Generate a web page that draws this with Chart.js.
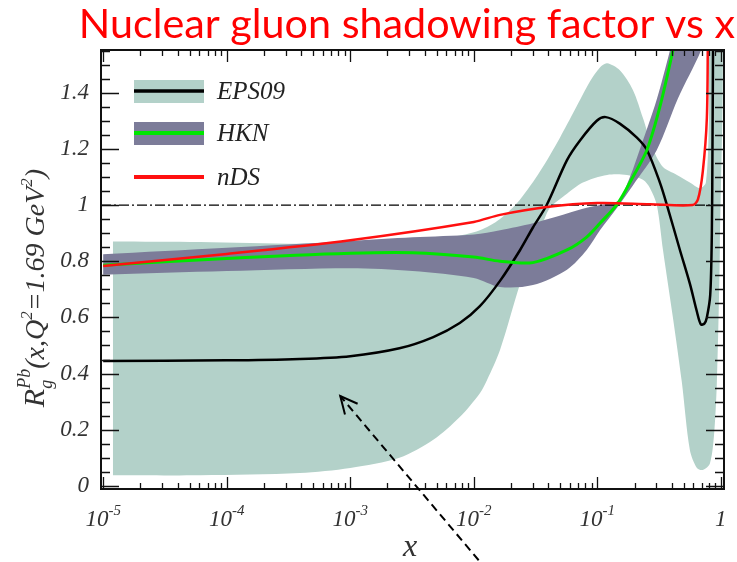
<!DOCTYPE html>
<html lang="en">
<head>
<meta charset="UTF-8">
<title>Nuclear gluon shadowing factor vs x</title>
<script src="https://cdn.jsdelivr.net/npm/chart.js"></script>
<style>
    html, body { margin: 0; padding: 0; background: #fff; }
</style>
</head>
<body>
<canvas id="shadowChart" width="737" height="562"></canvas>
<script>
// axes
const X_MIN = 9.6e-6, X_MAX = 1.06;
const Y_MIN = -0.011, Y_MAX = 1.552;
const X_TICKS = [1e-5, 1e-4, 1e-3, 1e-2, 1e-1, 1];
const X_TICK_EXP = ['-5', '-4', '-3', '-2', '-1', ''];
const Y_TICKS = [0, 0.2, 0.4, 0.6, 0.8, 1, 1.2, 1.4];
const Y_TICK_LABELS = ['0', '0.2', '0.4', '0.6', '0.8', '1', '1.2', '1.4'];
const TITLE = 'Nuclear gluon shadowing factor vs x';

// EPS09 central value
const eps09X = [1e-5, 1e-4, 3.9e-4, 1e-3, 2.5e-3, 4.7e-3, 7.7e-3, 0.0112, 0.0163, 0.0237, 0.0301, 0.0389,
    0.0568, 0.0724, 0.099, 0.117, 0.152, 0.209, 0.252, 0.321, 0.366, 0.466, 0.561, 0.64, 0.689, 0.735,
    0.77, 0.82, 0.845, 0.855, 0.865];
const eps09Y = [0.445, 0.447, 0.452, 0.462, 0.49, 0.53, 0.58, 0.64, 0.73, 0.84, 0.92, 1.0,
    1.16, 1.23, 1.30, 1.313, 1.29, 1.24, 1.196, 1.08, 1.0, 0.84, 0.72, 0.62, 0.575, 0.578,
    0.60, 0.68, 0.9, 1.2, 1.6];

// EPS09 uncertainty band
const eps09UpX = [1.2e-5, 6.1e-5, 3.9e-4, 2.5e-3, 6.4e-3, 0.0112, 0.0163, 0.0237, 0.0344, 0.0498, 0.0659,
    0.0871, 0.105, 0.12, 0.152, 0.194, 0.234, 0.282, 0.34, 0.441, 0.561, 0.676, 0.756, 0.80, 0.83];
const eps09Up = [0.870, 0.868, 0.862, 0.868, 0.885, 0.91, 0.95, 1.02, 1.12, 1.24, 1.34,
    1.44, 1.49, 1.505, 1.48, 1.41, 1.31, 1.20, 1.135, 1.107, 1.08, 1.06, 1.08, 1.3, 1.7];
const eps09LoX = [1.2e-5, 6.1e-5, 3.9e-4, 1e-3, 2.5e-3, 4.7e-3, 7.7e-3, 0.0112, 0.0128, 0.0163, 0.0237,
    0.0301, 0.0363, 0.0414, 0.0568, 0.0764, 0.12, 0.174, 0.234, 0.267, 0.303, 0.34, 0.409, 0.483,
    0.561, 0.64, 0.715, 0.815, 0.88, 0.928, 0.981, 1.019];
const eps09Lo = [0.038, 0.038, 0.046, 0.064, 0.10, 0.164, 0.245, 0.33, 0.377, 0.484, 0.72,
    0.84, 0.935, 0.99, 1.04, 1.08, 1.107, 1.107, 1.09, 1.06, 1.0, 0.84, 0.6, 0.37,
    0.128, 0.064, 0.057, 0.08, 0.18, 0.37, 0.84, 1.7];

// HKN central value and band
const hknX = [1e-5, 1e-4, 1e-3, 3.2e-3, 0.01, 0.0163, 0.0301, 0.0568, 0.082, 0.105, 0.147, 0.194,
    0.252, 0.321, 0.409, 0.43];
const hknY = [0.786, 0.81, 0.828, 0.83, 0.815, 0.80, 0.795, 0.84, 0.886, 0.935, 1.007, 1.10,
    1.196, 1.35, 1.55, 1.6];
const hknUpX = [1e-5, 1e-4, 1e-3, 3.2e-3, 0.01, 0.0163, 0.0301, 0.0568, 0.082, 0.105, 0.147, 0.18,
    0.22, 0.3, 0.387, 0.41];
const hknUp = [0.825, 0.848, 0.872, 0.885, 0.895, 0.91, 0.935, 0.97, 0.99, 1.0, 1.015, 1.09,
    1.196, 1.37, 1.55, 1.6];
const hknLoX = [1e-5, 1e-4, 1e-3, 3.2e-3, 0.01, 0.0163, 0.0301, 0.0568, 0.082, 0.105, 0.147, 0.194,
    0.303, 0.45, 0.69, 0.72];
const hknLo = [0.752, 0.765, 0.775, 0.765, 0.74, 0.708, 0.715, 0.77, 0.84, 0.91, 0.995, 1.07,
    1.196, 1.38, 1.55, 1.6];

// nDS
const ndsX = [1e-5, 1e-4, 1e-3, 0.01, 0.0163, 0.0389, 0.1, 0.267, 0.59, 0.652, 0.714, 0.77, 0.785];
const ndsY = [0.783, 0.826, 0.875, 0.94, 0.965, 0.993, 1.007, 1.003, 1.0, 1.02, 1.12, 1.31, 1.6];

// the arrow drawn on the slide (tail, head) in data units
const ARROW_X = [0.0128, 8.3e-4];
const ARROW_Y = [-0.3, 0.32];

const TEAL = '#b3d1c9';
const SLATE = '#7c7c99';

const pts = (xs, ys) => xs.map((x, i) => ({ x: x, y: ys[i] }));
const ring = (xu, yu, xl, yl) => pts(xu, yu).concat(pts(xl, yl).reverse());

const SERIF = '"Liberation Serif", "DejaVu Serif", serif';

const decorPlugin = {
    id: 'decor',
    afterDraw(chart) {
        const { ctx, chartArea: a, scales: { x, y } } = chart;
        ctx.save();

        // inward ticks on all four sides
        ctx.strokeStyle = '#111';
        ctx.lineWidth = 1.3;
        ctx.beginPath();
        const xt = [];
        for (let d = -5; d < 0; d++) for (let k = 1; k < 10; k++) xt.push([k * Math.pow(10, d), k === 1]);
        xt.push([1, true]);
        xt.forEach(([v, major]) => {
            const px = Math.round(x.getPixelForValue(v)) + 0.5;
            const len = major ? 12 : 6;
            ctx.moveTo(px, a.bottom); ctx.lineTo(px, a.bottom - len);
            ctx.moveTo(px, a.top); ctx.lineTo(px, a.top + len);
        });
        for (let i = 0; i <= 31; i++) {
            const py = Math.round(y.getPixelForValue(i * 0.05)) + 0.5;
            const len = i % 4 === 0 ? 18 : 9;
            ctx.moveTo(a.left, py); ctx.lineTo(a.left + len, py);
            ctx.moveTo(a.right, py); ctx.lineTo(a.right - len, py);
        }
        ctx.stroke();
        ctx.lineWidth = 2;
        ctx.strokeRect(a.left, a.top, a.width, a.height);

        // x tick labels 10^n
        ctx.fillStyle = '#333';
        ctx.textBaseline = 'alphabetic';
        ctx.textAlign = 'left';
        X_TICKS.forEach((v, i) => {
            const px = x.getPixelForValue(v);
            const base = i === X_TICKS.length - 1 ? '1' : '10';
            ctx.font = 'italic 23px ' + SERIF;
            const wb = ctx.measureText(base).width;
            ctx.font = 'italic 15px ' + SERIF;
            const we = ctx.measureText(X_TICK_EXP[i]).width;
            const x0 = px - (wb + we) / 2;
            ctx.font = 'italic 23px ' + SERIF;
            ctx.fillText(base, x0, 526);
            ctx.font = 'italic 15px ' + SERIF;
            ctx.fillText(X_TICK_EXP[i], x0 + wb, 515);
        });

        // x axis title
        ctx.font = 'italic 32px ' + SERIF;
        ctx.textAlign = 'center';
        ctx.fillText('x', x.getPixelForValue(3.05e-3), 556);

        // y axis title with sub/superscripts
        const parts = [
            ['R', 30, 0, true], ['g', 18, 8, false], ['Pb', 18, -14, true],
            ['(x,Q', 28, 0, true], ['2', 17, -12, true], ['=1.69 GeV', 28, 0, true],
            ['2', 17, -12, true], [')', 28, 0, true]
        ];
        let total = 0, w = [];
        parts.forEach(p => { ctx.font = 'italic ' + p[1] + 'px ' + SERIF; w.push(ctx.measureText(p[0]).width); if (p[3]) total += w[w.length - 1]; });
        ctx.translate(44, 288);
        ctx.rotate(-Math.PI / 2);
        ctx.textAlign = 'left';
        let cx = -total / 2;
        parts.forEach((p, i) => {
            ctx.font = 'italic ' + p[1] + 'px ' + SERIF;
            ctx.fillText(p[0], cx, p[2]);
            if (p[3]) cx += w[i];
        });
        ctx.setTransform(1, 0, 0, 1, 0, 0);

        // legend
        const ds = chart.data.datasets;
        const rows = [
            { band: ds[0].backgroundColor, line: ds[2].borderColor, lw: 3.5, text: 'EPS09', yc: a.top + 41 },
            { band: ds[1].backgroundColor, line: ds[3].borderColor, lw: 4, text: 'HKN', yc: a.top + 83 },
            { band: null, line: ds[4].borderColor, lw: 4, text: 'nDS', yc: a.top + 127 }
        ];
        rows.forEach(r => {
            const bx = a.left + 33, bw = 70;
            if (r.band) { ctx.fillStyle = r.band; ctx.fillRect(bx, r.yc - 11, bw, 23); }
            ctx.strokeStyle = r.line; ctx.lineWidth = r.lw;
            ctx.beginPath(); ctx.moveTo(bx, r.yc); ctx.lineTo(bx + bw, r.yc); ctx.stroke();
            ctx.fillStyle = '#222';
            ctx.font = 'italic 25px ' + SERIF;
            ctx.textAlign = 'left'; ctx.textBaseline = 'middle';
            ctx.fillText(r.text, a.left + 116, r.yc + 1);
        });

        // dashed arrow
        const tx = x.getPixelForValue(ARROW_X[0]), ty = y.getPixelForValue(ARROW_Y[0]);
        const hx = x.getPixelForValue(ARROW_X[1]), hy = y.getPixelForValue(ARROW_Y[1]);
        ctx.strokeStyle = '#000'; ctx.lineWidth = 2;
        ctx.setLineDash([8, 5]);
        ctx.beginPath(); ctx.moveTo(tx, ty); ctx.lineTo(hx, hy); ctx.stroke();
        ctx.setLineDash([]);
        const ang = Math.atan2(ty - hy, tx - hx);
        ctx.beginPath();
        ctx.moveTo(hx + 19 * Math.cos(ang - 0.45), hy + 19 * Math.sin(ang - 0.45));
        ctx.lineTo(hx, hy);
        ctx.lineTo(hx + 19 * Math.cos(ang + 0.45), hy + 19 * Math.sin(ang + 0.45));
        ctx.stroke();

        // slide title
        ctx.font = '36px Lato';
        const tw = ctx.measureText(TITLE).width;
        const size = 36 * 657 / tw;
        ctx.font = size.toFixed(1) + 'px Lato';
        ctx.fillStyle = '#ff0000';
        ctx.textAlign = 'right'; ctx.textBaseline = 'alphabetic';
        ctx.fillText(TITLE, 735, 38);
        ctx.restore();
    }
};

new Chart(document.getElementById('shadowChart'), {
    type: 'scatter',
    data: {
        datasets: [
            { label: 'EPS09 band', data: ring(eps09UpX, eps09Up, eps09LoX, eps09Lo), showLine: true, fill: 'shape',
              backgroundColor: TEAL, borderColor: 'rgba(0,0,0,0)', borderWidth: 0, tension: 0.3, order: 6 },
            { label: 'HKN band', data: ring(hknUpX, hknUp, hknLoX, hknLo), showLine: true, fill: 'shape',
              backgroundColor: SLATE, borderColor: 'rgba(0,0,0,0)', borderWidth: 0, tension: 0.3, order: 5 },
            { label: 'EPS09', data: pts(eps09X, eps09Y), showLine: true, borderColor: '#000', borderWidth: 2.5, tension: 0.3, order: 3 },
            { label: 'HKN', data: pts(hknX, hknY), showLine: true, borderColor: '#00e600', borderWidth: 3, tension: 0.3, order: 2 },
            { label: 'nDS', data: pts(ndsX, ndsY), showLine: true, borderColor: '#ff1010', borderWidth: 2.5, tension: 0.3, order: 1 },
            { label: 'unity', data: pts([X_MIN, X_MAX], [1, 1]), showLine: true, borderColor: '#000', borderWidth: 1.2,
              borderDash: [10, 3, 2, 3], order: 4 }
        ]
    },
    options: {
        responsive: false,
        animation: false,
        events: [],
        layout: { padding: { top: 50, right: 13, left: 0, bottom: 0 } },
        elements: { point: { radius: 0 } },
        plugins: { legend: { display: false }, tooltip: { enabled: false } },
        scales: {
            x: {
                type: 'logarithmic', min: X_MIN, max: X_MAX,
                grid: { display: false, drawTicks: false }, border: { display: false },
                ticks: { display: false },
                afterBuildTicks: s => { s.ticks = X_TICKS.map(v => ({ value: v })); },
                afterFit: s => { s.height = 73; }
            },
            y: {
                min: Y_MIN, max: Y_MAX,
                grid: { display: false, drawTicks: false }, border: { display: false },
                ticks: {
                    autoSkip: false, padding: 12, color: '#333',
                    font: { family: SERIF, style: 'italic', size: 23 },
                    callback: (v, i) => Y_TICK_LABELS[i]
                },
                afterBuildTicks: s => { s.ticks = Y_TICKS.map(v => ({ value: v })); },
                afterFit: s => { s.width = 101; }
            }
        }
    },
    plugins: [decorPlugin]
});
</script>
</body>
</html>
